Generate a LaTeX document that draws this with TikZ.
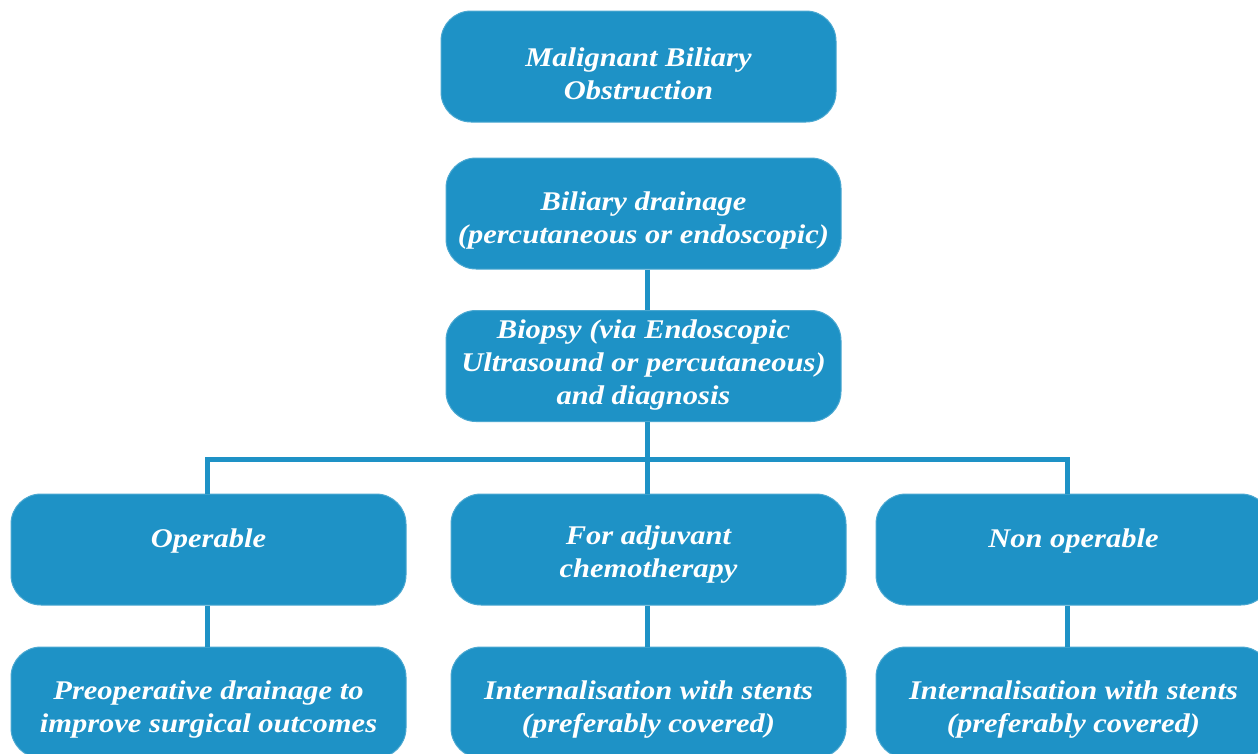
\documentclass[tikz,border=0pt]{standalone}
\usepackage{fontspec}
\setmainfont{Liberation Serif}[FakeStretch=1.13]
\definecolor{boxblue}{HTML}{1E92C6}
\begin{document}
\begin{tikzpicture}[x=1pt,y=-1pt,
  box/.style={fill=boxblue, draw=boxblue!80!white, line width=1pt, rounded corners=30pt,
    minimum width=395pt, minimum height=111pt, inner sep=0pt},
  lbl/.style={align=center, text=white, font=\fontsize{27}{33}\selectfont\bfseries\itshape, inner sep=0pt},
  conn/.style={draw=boxblue, line width=5pt, line join=miter}]
\useasboundingbox (0,0) rectangle (1258,753);
\node[box] (b1) at (638.5,66.5) {};
\node[box] (b2) at (643.5,213.5) {};
\node[box] (b3) at (643.5,366) {};
\node[box] (ra) at (208.5,549.5) {};
\node[box] (rb) at (648.5,549.5) {};
\node[box] (rc) at (1073.5,549.5) {};
\node[box] (ba) at (208.5,702.5) {};
\node[box] (bb) at (648.5,702.5) {};
\node[box] (bc) at (1073.5,702.5) {};
\node[lbl] (t1) at ([yshift=-7pt]b1.center) {Malignant Biliary\\Obstruction};
\node[lbl] (t2) at ([yshift=-7pt]b2.center) {Biliary drainage\\(percutaneous or endoscopic)};
\node[lbl] (t3) at ([yshift=1pt]b3.center) {Biopsy (via Endoscopic\\Ultrasound or percutaneous)\\and diagnosis};
\node[lbl] (ta) at ([yshift=-5pt]ra.center) {Operable\\\mbox{}};
\node[lbl] (tb) at ([yshift=-5pt]rb.center) {For adjuvant\\chemotherapy};
\node[lbl] (tc) at ([yshift=-5pt]rc.center) {Non operable\\\mbox{}};
\node[lbl] (tba) at ([yshift=-7pt]ba.center) {Preoperative drainage to\\improve surgical outcomes};
\node[lbl] (tbb) at ([yshift=-7pt]bb.center) {Internalisation with stents\\(preferably covered)};
\node[lbl] (tbc) at ([yshift=-7pt]bc.center) {Internalisation with stents\\(preferably covered)};
\draw[conn] ([xshift=3.5pt]b2.south) -- ([xshift=3.5pt]b3.north);
\draw[conn] ([xshift=3.5pt]b3.south) -- ([xshift=-1.5pt]rb.north);
\draw[conn] ([xshift=-1.5pt]ra.north) -- ++(0,-34) -| ([xshift=-6.5pt]rc.north);
\draw[conn] ([xshift=-1.5pt]ra.south) -- ([xshift=-1.5pt]ba.north);
\draw[conn] ([xshift=-1.5pt]rb.south) -- ([xshift=-1.5pt]bb.north);
\draw[conn] ([xshift=-6.5pt]rc.south) -- ([xshift=-6.5pt]bc.north);
\end{tikzpicture}
\end{document}
